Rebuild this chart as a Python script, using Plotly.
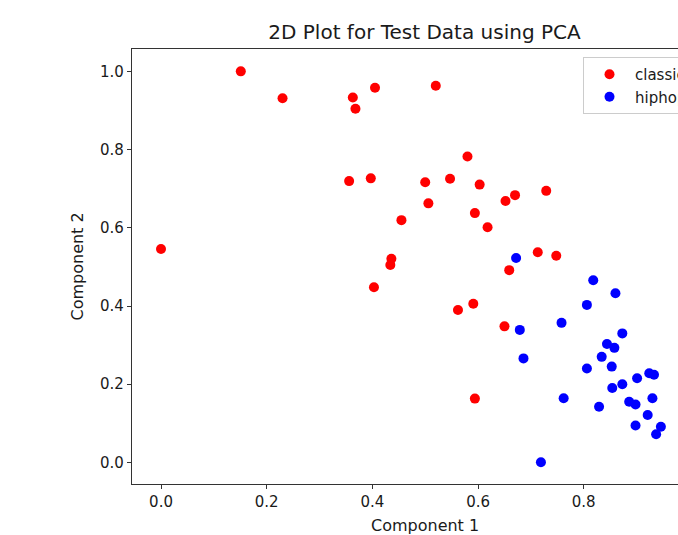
import plotly.graph_objects as go

# ---- data ----
classical_x = [0.000, 0.151, 0.230, 0.363, 0.368, 0.405, 0.356, 0.397, 0.455, 0.436,
               0.434, 0.403, 0.580, 0.500, 0.547, 0.603, 0.729, 0.506, 0.652, 0.670,
               0.594, 0.618, 0.713, 0.748, 0.659, 0.562, 0.591, 0.650, 0.594, 0.520]
classical_y = [0.546, 1.001, 0.932, 0.934, 0.905, 0.959, 0.720, 0.727, 0.620, 0.521,
               0.505, 0.448, 0.783, 0.717, 0.726, 0.711, 0.695, 0.663, 0.669, 0.684,
               0.638, 0.602, 0.538, 0.529, 0.492, 0.390, 0.406, 0.348, 0.163, 0.964]

hiphop_x = [0.672, 0.818, 0.860, 0.806, 0.758, 0.679, 0.873, 0.844, 0.858, 0.686,
            0.834, 0.853, 0.806, 0.924, 0.933, 0.901, 0.873, 0.854, 0.762, 0.930,
            0.886, 0.898, 0.829, 0.921, 0.946, 0.898, 0.937, 0.719]
hiphop_y = [0.523, 0.466, 0.433, 0.403, 0.357, 0.339, 0.330, 0.303, 0.293, 0.266,
            0.270, 0.245, 0.240, 0.228, 0.224, 0.215, 0.200, 0.190, 0.164, 0.164,
            0.155, 0.148, 0.142, 0.121, 0.091, 0.094, 0.072, 0.000]

series_names = ["classical", "hiphop"]
series_colors = ["#ff0000", "#0000ff"]
tick_vals = [0.0, 0.2, 0.4, 0.6, 0.8, 1.0]

FONT = "DejaVu Sans"
W, H = 678, 535
L, R, T, B = 132, 0, 49, 51
plot_w = W - L - R
plot_h = H - T - B

fig = go.Figure()
for name, xs, ys, col in [(series_names[0], classical_x, classical_y, series_colors[0]),
                          (series_names[1], hiphop_x, hiphop_y, series_colors[1])]:
    fig.add_trace(go.Scatter(x=xs, y=ys, mode="markers", name=name,
                             marker=dict(color=col, size=10, line=dict(width=0)),
                             cliponaxis=True))

axis_common = dict(showgrid=False, zeroline=False, showline=True, linecolor="#333",
                   linewidth=1.2, ticks="outside", ticklen=4, tickcolor="#333",
                   tickwidth=1, tickvals=tick_vals, tickformat=".1f",
                   tickfont=dict(family=FONT, size=15, color="#1a1a1a"))

fig.update_layout(
    width=W, height=H,
    margin=dict(l=L, r=R, t=T, b=B, pad=0, autoexpand=False),
    paper_bgcolor="white", plot_bgcolor="white",
    font=dict(family=FONT, color="#1a1a1a"),
    title=dict(text="2D Plot for Test Data using PCA",
               font=dict(family=FONT, size=20, color="#1a1a1a"),
               xref="paper", x=(424.5 - L) / plot_w, xanchor="center",
               yref="container", y=1 - 32 / H, yanchor="middle"),
    xaxis=dict(range=[-0.0549, 0.9784], mirror=True, **axis_common),
    yaxis=dict(range=[-0.0556, 1.0582], mirror=False, **axis_common),
    showlegend=True,
    legend=dict(x=(583 - L) / plot_w, xanchor="left",
                y=1 - (57 - T) / plot_h, yanchor="top",
                itemwidth=41,
                bgcolor="white", bordercolor="#cccccc", borderwidth=1,
                font=dict(family=FONT, size=15, color="#1a1a1a")),
    annotations=[
        dict(text="Component 1", xref="paper", yref="paper",
             x=(424.5 - L) / plot_w, y=(T + plot_h - 525) / plot_h,
             xanchor="center", yanchor="middle", showarrow=False,
             font=dict(family=FONT, size=16, color="#1a1a1a")),
        dict(text="Component 2", xref="paper", yref="paper",
             x=(77 - L) / plot_w, y=0.5, textangle=-90,
             xanchor="center", yanchor="middle", showarrow=False,
             font=dict(family=FONT, size=16, color="#1a1a1a")),
    ],
)

fig.write_html("out.html")
